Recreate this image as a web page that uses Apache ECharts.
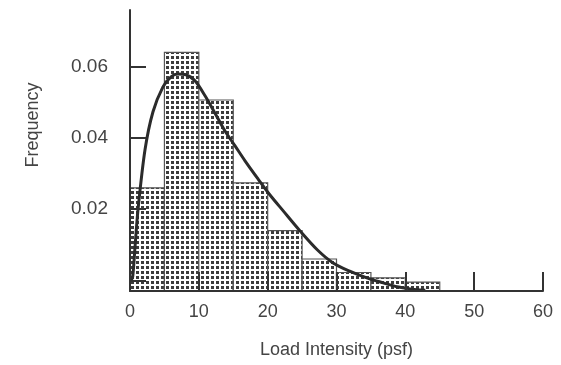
<!DOCTYPE html>
<html>
<head>
<meta charset="utf-8">
<script src="https://cdn.jsdelivr.net/npm/echarts@6/dist/echarts.min.js"></script>
<style>
html,body{margin:0;padding:0;background:#fff;}
#chart{width:561px;height:365px;}
</style>
</head>
<body>
<div id="chart"></div>
<script>
// Histogram bins (psf) and frequencies
const binStart = [0, 5, 10, 15, 20, 25, 30, 35, 40];
const binEnd   = [5, 10, 15, 20, 25, 30, 35, 40, 45];
const freq     = [0.026, 0.0641, 0.0507, 0.0274, 0.014, 0.006, 0.0022, 0.0007, -0.0005];

// Fitted density curve
const curveX = [0.15, 0.39, 0.73, 1.16, 2.18, 3.34, 4.79, 5.96, 6.97, 8.14, 9.44, 10.9, 12.35, 13.8, 15.26, 16.71, 18.6, 20.34, 22.23, 24.7, 27.2, 29.5, 32.0, 34.4, 36.8, 38.8, 40.7, 42.9];
const curveY = [0.0, 0.001, 0.0094, 0.0198, 0.0367, 0.0474, 0.0544, 0.0572, 0.058, 0.0578, 0.0561, 0.0519, 0.047, 0.042, 0.0378, 0.0336, 0.0285, 0.0240, 0.0196, 0.0139, 0.0086, 0.0049, 0.0025, 0.0007, -0.0007, -0.0018, -0.0024, -0.0028];

// Axis ticks / labels
const xTicks = [0, 10, 20, 30, 40, 50, 60];
const yTickValues = [0, 0.02, 0.04, 0.06];
const yLabelValues = [0.02, 0.04, 0.06];

const yMin = -0.003, yMax = 0.076;

// dot-grid pattern
const pat = document.createElement('canvas');
pat.width = 5; pat.height = 5;
const pc = pat.getContext('2d');
pc.fillStyle = '#ffffff'; pc.fillRect(0, 0, 5, 5);
pc.fillStyle = '#3c3c3c';
pc.fillRect(1, 1, 3, 3);

const barData = binStart.map((s, i) => [s, binEnd[i], freq[i]]);
const lineData = curveX.map((x, i) => [x, curveY[i]]);

const chart = echarts.init(document.getElementById('chart'), null, {renderer: 'canvas'});
const font = "'Liberation Sans', Arial, Helvetica, sans-serif";
chart.setOption({
  animation: false,
  backgroundColor: '#fff',
  grid: {left: 130, right: 18, top: 10, bottom: 74},
  xAxis: {
    type: 'value', min: 0, max: 60, interval: 10, z: 5,
    axisLine: {show: true, onZero: false, lineStyle: {color: '#333', width: 2}},
    axisTick: {show: true, inside: true, length: 19, customValues: xTicks, lineStyle: {color: '#333', width: 2}},
    axisLabel: {margin: 12, fontSize: 18, color: '#444', fontFamily: font, customValues: xTicks},
    splitLine: {show: false},
    name: 'Load Intensity (psf)', nameLocation: 'middle', nameGap: 50,
    nameTextStyle: {fontSize: 18, color: '#444', fontFamily: font}
  },
  yAxis: {
    type: 'value', min: yMin, max: yMax, z: 5,
    axisLine: {show: true, onZero: false, lineStyle: {color: '#333', width: 2}},
    axisTick: {show: true, inside: true, length: 16, customValues: yTickValues, lineStyle: {color: '#333', width: 2}},
    axisLabel: {margin: 22, fontSize: 19, color: '#444', fontFamily: font, customValues: yLabelValues,
      formatter: v => v.toFixed(2)},
    splitLine: {show: false}
  },
  graphic: [{
    type: 'text', x: 33, y: 125, rotation: Math.PI / 2,
    style: {text: 'Frequency', fontSize: 18, fill: '#444', fontFamily: font, align: 'center', verticalAlign: 'middle'}
  }],
  series: [{
    type: 'custom',
    data: barData,
    encode: {x: [0, 1], y: 2},
    renderItem: function (params, api) {
      const p0 = api.coord([api.value(0), yMin]);
      const p1 = api.coord([api.value(1), api.value(2)]);
      return {
        type: 'rect',
        shape: {x: p0[0], y: p1[1], width: p1[0] - p0[0], height: p0[1] - p1[1]},
        style: {fill: {image: pat, repeat: 'repeat'}, stroke: '#555', lineWidth: 1.2}
      };
    },
    z: 1
  }, {
    type: 'line',
    data: lineData,
    smooth: 0.3,
    showSymbol: false,
    lineStyle: {color: '#2b2b2b', width: 3},
    z: 3
  }]
});
</script>
</body>
</html>
